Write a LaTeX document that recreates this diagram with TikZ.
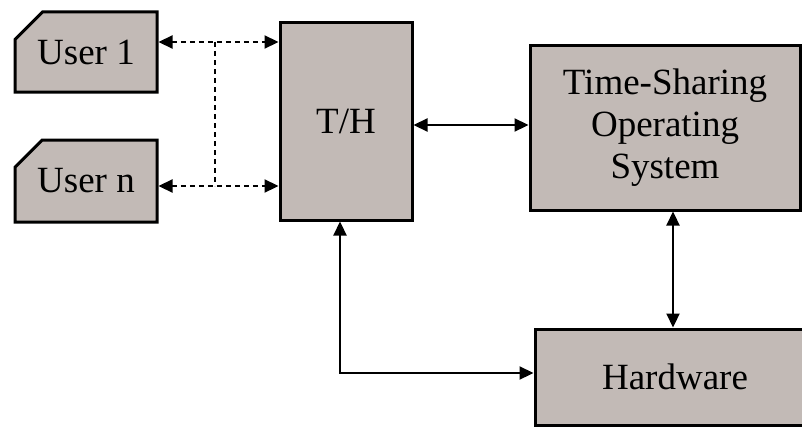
\documentclass[tikz,border=0pt]{standalone}
\usepackage{fontspec}
\setmainfont{Liberation Serif}
\usetikzlibrary{arrows.meta,shapes.misc}
\definecolor{boxfill}{RGB}{194,186,182}
\tikzset{
  blk/.style={draw=black, line width=3pt, fill=boxfill, inner sep=0pt,
    font=\fontsize{37}{42}\selectfont, align=center},
  userbox/.style={blk, chamfered rectangle, chamfered rectangle corners=north west,
    chamfered rectangle xsep=27pt, chamfered rectangle ysep=15pt},
  link/.style={line width=2.2pt, {Triangle[length=14pt,width=13pt]}-{Triangle[length=14pt,width=13pt]}},
  dlink/.style={link, dash pattern=on 5pt off 4pt},
  dline/.style={line width=2pt, dash pattern=on 5pt off 4pt}
}
\begin{document}
\begin{tikzpicture}[x=1pt,y=-1pt]
\useasboundingbox (0,0) rectangle (802,428);
\node[userbox, minimum width=142pt, minimum height=80pt] (u1) at (86,52) {User 1};
\node[userbox, minimum width=142pt, minimum height=82pt] (un) at (86,181) {User n};
\node[blk, rectangle, minimum width=132pt, minimum height=197pt] (th) at (346,121.5) {T/H};
\node[blk, rectangle, minimum width=270pt, minimum height=164pt] (os) at (665,128) {Time-Sharing\\Operating\\System};
\node[blk, rectangle, minimum width=280pt, minimum height=96pt] (hw) at (675,377) {Hardware};
\coordinate (j1) at (215,42);
\coordinate (jn) at (215,186);
\coordinate (v) at (673,0);
\coordinate (w) at (340,0);
\draw[dlink] (u1.east |- j1) -- (th.west |- j1);
\draw[dlink] (un.east |- jn) -- (th.west |- jn);
\draw[dline] (j1) -- (jn);
\draw[link] (th.east |- 0,125) -- (os.west |- 0,125);
\draw[link] (os.south -| v) -- (hw.north -| v);
\draw[link] (th.south -| w) |- (hw.west |- 0,373);
\end{tikzpicture}
\end{document}
